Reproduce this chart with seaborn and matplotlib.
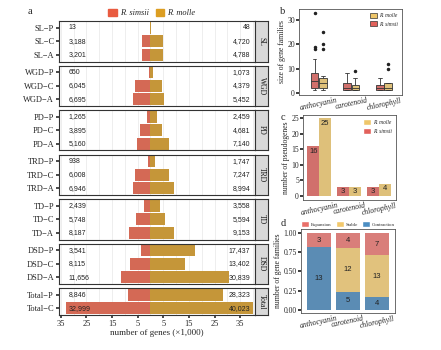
import matplotlib
matplotlib.use("Agg")
import matplotlib.pyplot as plt
import matplotlib.patches as mpatches
import seaborn as sns
import pandas as pd
import numpy as np

sns.set_theme(style="white")
plt.rcParams['font.family'] = ['Liberation Serif', 'DejaVu Serif']

# ---------------- data ----------------
facets = ["SL", "WGD", "PD", "TRD", "TD", "DSD", "Total"]
facet_rows = {
    "SL": ["SL\u2212P", "SL\u2212C", "SL\u2212A"],
    "WGD": ["WGD\u2212P", "WGD\u2212C", "WGD\u2212A"],
    "PD": ["PD\u2212P", "PD\u2212C", "PD\u2212A"],
    "TRD": ["TRD\u2212P", "TRD\u2212C", "TRD\u2212A"],
    "TD": ["TD\u2212P", "TD\u2212C", "TD\u2212A"],
    "DSD": ["DSD\u2212P", "DSD\u2212C", "DSD\u2212A"],
    "Total": ["Total\u2212P", "Total\u2212C"],
}
simsii_genes = {
    "SL": [13, 3188, 3201],
    "WGD": [650, 6045, 6695],
    "PD": [1265, 3895, 5160],
    "TRD": [938, 6008, 6946],
    "TD": [2439, 5748, 8187],
    "DSD": [3541, 8115, 11656],
    "Total": [8846, 32999],
}
molle_genes = {
    "SL": [48, 4720, 4788],
    "WGD": [1073, 4379, 5452],
    "PD": [2459, 4681, 7140],
    "TRD": [1747, 7247, 8994],
    "TD": [3558, 5594, 9153],
    "DSD": [17437, 13402, 30839],
    "Total": [28323, 40023],
}
xtick_vals = [-35, -25, -15, -5, 5, 15, 25, 35]
xtick_labels = ["35", "25", "15", "5", "5", "15", "25", "35"]

pathways = ["anthocyanin", "carotenoid", "chlorophyll"]
# panel b: gene family sizes
fam_simsii = {
    "anthocyanin": [1, 1, 2, 2, 2, 3, 4, 5, 5, 6, 7, 8, 8, 14, 18, 19, 33],
    "carotenoid": [1, 1, 1, 2, 2, 3, 4, 6, 8],
    "chlorophyll": [1, 1, 1, 2, 2, 3, 3, 5, 6],
}
fam_molle = {
    "anthocyanin": [1, 1, 2, 2, 2, 3, 3, 4, 4, 4, 5, 6, 6, 7, 18, 20, 25],
    "carotenoid": [1, 1, 1, 2, 2, 2, 3, 6, 9],
    "chlorophyll": [1, 1, 1, 2, 2, 3, 4, 10, 12],
}
# panel c: pseudogenes
pseudo_simsii = [16, 3, 3]
pseudo_molle = [25, 3, 4]
# panel d: gene family dynamics
expansion = [3, 4, 7]
stable = [0, 12, 13]
contraction = [13, 5, 4]

# ---------------- style ----------------
RED_A = "#E95B40"
GOLD_A = "#DC9E22"
RED_B = "#E2615B"
YEL_B = "#EEC66A"
RED_D = "#E9706A"
YEL_D = "#F2C86C"
BLUE_D = "#4C8EC3"
W, H = 441, 350
fig = plt.figure(figsize=(W / 100, H / 100), dpi=100)


def ax_px(l, t, r, b):
    return fig.add_axes([l / W, 1 - b / H, (r - l) / W, (b - t) / H])


# ---------------- panel a ----------------
left, right = 59, 255
top = 21
rowh = 13.5
gap = 4
y = top
for i, f in enumerate(facets):
    n = len(facet_rows[f])
    ax = ax_px(left, y, right, y + n * rowh)
    sax = ax_px(right, y, right + 13, y + n * rowh)
    df = pd.DataFrame({
        "label": facet_rows[f] * 2,
        "genes": [-v / 1000 for v in simsii_genes[f]] + [v / 1000 for v in molle_genes[f]],
        "species": ["R. simsii"] * n + ["R. molle"] * n,
    })
    ax.set_xticks(xtick_vals)
    ax.set_xticks([-30, -20, -10, 0, 10, 20, 30, 40], minor=True)
    ax.grid(True, which="both", axis="x", color="#EBEBEB", lw=0.6)
    ax.grid(True, which="major", axis="y", color="#EBEBEB", lw=0.6)
    ax.set_axisbelow(True)
    sns.barplot(data=df, y="label", x="genes", hue="species", order=facet_rows[f],
                hue_order=["R. simsii", "R. molle"], palette=[RED_A, GOLD_A],
                dodge=False, width=0.92, orient="h", ax=ax, legend=False,
                edgecolor="none", linewidth=0)
    ax.set_xlim(-35.7, 40.8)
    ax.set_ylim(n - 0.5, -0.5)
    for j in range(n):
        ax.text(-32.0, j, f"{simsii_genes[f][j]:,}", ha="left", va="center",
                fontsize=5, family="Liberation Sans", color="#222222")
        ax.text(39.0, j, f"{molle_genes[f][j]:,}", ha="right", va="center",
                fontsize=5, family="Liberation Sans", color="#222222")
    ax.set_ylabel("")
    ax.tick_params(axis="y", labelsize=6, length=2, pad=1.5, left=True, color="#333333")
    if i == len(facets) - 1:
        ax.set_xticklabels(xtick_labels)
        ax.tick_params(axis="x", labelsize=6, length=2, pad=1.5, bottom=True, color="#333333")
        ax.set_xlabel("number of genes (\u00d71,000)", fontsize=6.5, labelpad=1)
    else:
        ax.set_xticklabels([])
        ax.tick_params(axis="x", length=0)
        ax.set_xlabel("")
    for s in ax.spines.values():
        s.set_color("#333333")
        s.set_linewidth(0.8)
    sax.set_facecolor("#D9D9D9")
    sax.set_xticks([])
    sax.set_yticks([])
    for s in sax.spines.values():
        s.set_color("#333333")
        s.set_linewidth(0.8)
    sax.text(0.5, 0.5, f, rotation=270, ha="center", va="center", fontsize=5.5,
             transform=sax.transAxes, color="#1A1A1A")
    y += n * rowh + gap

fig.text(30 / W, 1 - 12 / H, "a", fontsize=7.5, ha="center", va="center")
leg_a = [mpatches.Patch(color=RED_A, label="R. simsii"),
         mpatches.Patch(color=GOLD_A, label="R. molle")]
fig.legend(handles=leg_a, loc="center", bbox_to_anchor=(152 / W, 1 - 13 / H), ncol=2,
           frameon=False, prop={"style": "italic", "size": 6}, handlelength=1.0,
           handleheight=1.0, handletextpad=0.4, columnspacing=0.8)

# ---------------- panel b ----------------
axb = ax_px(299, 9, 402, 95)
rows = []
for p in pathways:
    for v in fam_simsii[p]:
        rows.append((p, v, "R. simsii"))
    for v in fam_molle[p]:
        rows.append((p, v, "R. molle"))
dfb = pd.DataFrame(rows, columns=["pathway", "size", "species"])
sns.boxplot(data=dfb, x="pathway", y="size", hue="species", order=pathways,
            hue_order=["R. simsii", "R. molle"], palette=[RED_B, YEL_B], width=0.5,
            gap=0.05, linewidth=0.6, linecolor="#333333", ax=axb, legend=False,
            flierprops=dict(marker="o", markersize=1.5, markerfacecolor="#222222",
                            markeredgecolor="#222222"))
axb.set_ylim(-0.95, 34.6)
axb.set_xlim(-0.6, 2.55)
axb.set_yticks([0, 10, 20, 30])
axb.set_xlabel("")
axb.set_ylabel("size of gene families", fontsize=5.5, labelpad=1)
axb.tick_params(axis="y", labelsize=5.5, length=2, pad=1, left=True)
axb.tick_params(axis="x", labelsize=5.5, length=0, pad=1)
for lab in axb.get_xticklabels():
    lab.set_rotation(12)
    lab.set_style("italic")
leg_b = [mpatches.Patch(facecolor=YEL_B, edgecolor="#333333", lw=0.5, label="R. molle"),
         mpatches.Patch(facecolor=RED_B, edgecolor="#333333", lw=0.5, label="R. simsii")]
axb.legend(handles=leg_b, loc="upper right", frameon=False,
           prop={"style": "italic", "size": 4}, handlelength=1.2, handleheight=0.9,
           borderaxespad=0.3, labelspacing=0.6, handletextpad=0.4)
for s in axb.spines.values():
    s.set_color("#555555")
    s.set_linewidth(0.6)
fig.text(283 / W, 1 - 12 / H, "b", fontsize=7.5, ha="center", va="center")

# ---------------- panel c ----------------
axc = ax_px(303, 115, 396, 200)
dfc = pd.DataFrame({
    "pathway": pathways * 2,
    "count": pseudo_simsii + pseudo_molle,
    "species": ["R. simsii"] * 3 + ["R. molle"] * 3,
})
sns.barplot(data=dfc, x="pathway", y="count", hue="species", order=pathways,
            hue_order=["R. simsii", "R. molle"], palette=[RED_B, YEL_B], width=0.8,
            ax=axc, legend=False, edgecolor="none")
for k, p in enumerate(pathways):
    axc.text(k - 0.2, pseudo_simsii[k] - 1.6, str(pseudo_simsii[k]), ha="center",
             va="center", fontsize=5.5, family="Liberation Sans", color="#222222")
    axc.text(k + 0.2, pseudo_molle[k] - 1.6, str(pseudo_molle[k]), ha="center",
             va="center", fontsize=5.5, family="Liberation Sans", color="#222222")
axc.set_ylim(-1.3, 26.1)
axc.set_xlim(-0.55, 2.58)
axc.set_yticks([0, 5, 10, 15, 20, 25])
axc.set_xlabel("")
axc.set_ylabel("number of pseudogenes", fontsize=5.5, labelpad=1)
axc.tick_params(axis="y", labelsize=5.5, length=2, pad=1, left=True)
axc.tick_params(axis="x", labelsize=5.5, length=0, pad=1)
for lab in axc.get_xticklabels():
    lab.set_rotation(12)
    lab.set_style("italic")
leg_c = [mpatches.Patch(facecolor=YEL_B, label="R. molle"),
         mpatches.Patch(facecolor=RED_B, label="R. simsii")]
axc.legend(handles=leg_c, loc="upper right", frameon=False,
           prop={"style": "italic", "size": 4}, handlelength=1.4, handleheight=1.4,
           borderaxespad=0.3, labelspacing=0.5, handletextpad=0.4)
for s in axc.spines.values():
    s.set_color("#555555")
    s.set_linewidth(0.6)
fig.text(283 / W, 1 - 117 / H, "c", fontsize=7.5, ha="center", va="center")

# ---------------- panel d ----------------
axd = ax_px(301, 229, 395, 313)
tot = [e + s + c for e, s, c in zip(expansion, stable, contraction)]
dfd = pd.DataFrame({
    "pathway": pathways,
    "top": [(e + s + c) / t for e, s, c, t in zip(expansion, stable, contraction, tot)],
    "mid": [(s + c) / t for s, c, t in zip(stable, contraction, tot)],
    "low": [c / t for c, t in zip(contraction, tot)],
})
sns.barplot(data=dfd, x="pathway", y="top", order=pathways, color=RED_D, width=0.82,
            ax=axd, edgecolor="none")
sns.barplot(data=dfd, x="pathway", y="mid", order=pathways, color=YEL_D, width=0.82,
            ax=axd, edgecolor="none")
sns.barplot(data=dfd, x="pathway", y="low", order=pathways, color=BLUE_D, width=0.82,
            ax=axd, edgecolor="none")
for k in range(3):
    t = tot[k]
    segs = [(contraction[k], 0), (stable[k], contraction[k]),
            (expansion[k], contraction[k] + stable[k])]
    for cnt, base in segs:
        if cnt > 0:
            axd.text(k, (base + cnt / 2) / t, str(cnt), ha="center", va="center",
                     fontsize=5.5, family="Liberation Sans", color="#222222")
axd.set_ylim(-0.04, 1.05)
axd.set_xlim(-0.62, 2.62)
axd.set_yticks([0, 0.25, 0.5, 0.75, 1.0])
axd.set_yticklabels(["0.00", "0.25", "0.50", "0.75", "1.00"])
axd.set_xlabel("")
axd.set_ylabel("number of gene families", fontsize=5.5, labelpad=1)
axd.tick_params(axis="y", labelsize=5.5, length=2, pad=1, left=True)
axd.tick_params(axis="x", labelsize=5.5, length=0, pad=1)
for lab in axd.get_xticklabels():
    lab.set_rotation(12)
    lab.set_style("italic")
leg_d = [mpatches.Patch(facecolor=RED_D, label="Expansion"),
         mpatches.Patch(facecolor=YEL_D, label="Stable"),
         mpatches.Patch(facecolor=BLUE_D, label="Contraction")]
fig.legend(handles=leg_d, loc="center", bbox_to_anchor=(348 / W, 1 - 224 / H), ncol=3,
           frameon=False, prop={"size": 3.5}, handlelength=1.6, handleheight=1.4,
           handletextpad=0.3, columnspacing=1.0)
for s in axd.spines.values():
    s.set_color("#555555")
    s.set_linewidth(0.6)
fig.text(283 / W, 1 - 224 / H, "d", fontsize=7.5, ha="center", va="center")

fig.savefig("out.png", dpi=100)
